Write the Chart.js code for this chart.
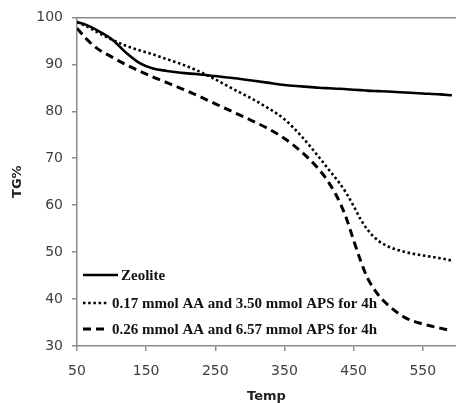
<!DOCTYPE html>
<html>
<head>
<meta charset="utf-8">
<script src="https://cdn.jsdelivr.net/npm/chart.js@4/dist/chart.umd.min.js"></script>
<style>
  html, body { margin: 0; padding: 0; background: #ffffff; }
  #wrap { width: 456px; height: 403px; position: relative; }
</style>
</head>
<body>
<div id="wrap"><canvas id="c" width="456" height="403"></canvas></div>
<script>
// ---- data ----
const temps = [50, 65, 80, 100, 120, 140, 160, 180, 200, 225, 250, 275, 300, 325, 350, 375, 400, 415, 430, 440, 450, 460, 470, 485, 500, 525, 550, 575, 592];
const zeolite = [99.0, 98.3, 97.2, 95.4, 92.6, 90.3, 89.1, 88.6, 88.2, 87.9, 87.5, 87.1, 86.6, 86.1, 85.6, 85.3, 85.0, 84.9, 84.8, 84.7, 84.6, 84.5, 84.4, 84.3, 84.2, 84.0, 83.8, 83.6, 83.4];
const sample017 = [99.0, 98.0, 96.8, 95.3, 94.0, 93.0, 92.1, 91.1, 90.1, 88.6, 86.8, 84.8, 82.9, 80.8, 78.3, 74.6, 70.2, 67.4, 64.6, 62.4, 59.8, 57.0, 54.8, 52.5, 51.2, 50.0, 49.3, 48.7, 48.2];
const sample026 = [97.7, 95.2, 93.3, 91.6, 90.0, 88.6, 87.3, 86.1, 84.9, 83.3, 81.6, 79.9, 78.2, 76.4, 74.2, 71.3, 67.6, 64.6, 60.6, 57.0, 52.5, 48.2, 44.5, 41.0, 38.7, 36.0, 34.7, 33.8, 33.2];
const seriesNames = ["Zeolite", "0.17 mmol AA and 3.50 mmol APS for 4h", "0.26 mmol AA and 6.57 mmol APS for 4h"];
const xTickValues = [50, 150, 250, 350, 450, 550];
const yTickValues = [30, 40, 50, 60, 70, 80, 90, 100];
const xTitle = "Temp";
const yTitle = "TG%";

const toPts = (vals) => vals.map((v, i) => ({ x: temps[i], y: v }));

const axisColor = '#8c8c8c';
const tickFont = { family: 'DejaVu Sans', size: 14 };

// legend drawn inside the plot area (bottom-left), using dataset styles
const insideLegend = {
  id: 'insideLegend',
  afterDatasetsDraw(chart) {
    const { ctx, chartArea } = chart;
    const rows = [-71, -43, -17];
    const sampleLen = [35, 26, 26];
    ctx.save();
    ctx.font = 'bold 15px "Liberation Serif"';
    ctx.textBaseline = 'middle';
    ctx.fillStyle = '#111';
    chart.data.datasets.forEach((ds, i) => {
      const y = chartArea.bottom + rows[i];
      const x0 = chartArea.left + 6;
      ctx.beginPath();
      ctx.strokeStyle = ds.borderColor;
      ctx.lineWidth = ds.borderWidth;
      ctx.setLineDash(ds.borderDash || []);
      ctx.moveTo(x0, y);
      ctx.lineTo(x0 + sampleLen[i], y);
      ctx.stroke();
      ctx.setLineDash([]);
      ctx.fillText(ds.label, x0 + sampleLen[i] + 3, y + 1);
    });
    ctx.restore();
  }
};

new Chart(document.getElementById('c'), {
  type: 'line',
  data: {
    datasets: [
      { label: seriesNames[0], data: toPts(zeolite), borderColor: '#000', borderWidth: 2.6, borderDash: [], pointRadius: 0, tension: 0.4, cubicInterpolationMode: 'monotone', fill: false },
      { label: seriesNames[1], data: toPts(sample017), borderColor: '#000', borderWidth: 2.6, borderDash: [2.5, 2.7], pointRadius: 0, tension: 0.4, cubicInterpolationMode: 'monotone', fill: false },
      { label: seriesNames[2], data: toPts(sample026), borderColor: '#000', borderWidth: 3, borderDash: [8, 5], pointRadius: 0, tension: 0.4, cubicInterpolationMode: 'monotone', fill: false }
    ]
  },
  options: {
    responsive: false,
    animation: false,
    devicePixelRatio: 1,
    layout: { padding: { top: 17, right: 0, bottom: 0, left: 0 } },
    plugins: { legend: { display: false }, tooltip: { enabled: false } },
    scales: {
      x: {
        type: 'linear', position: 'bottom', min: 50, max: 598,
        afterBuildTicks: (s) => { s.ticks = xTickValues.map(v => ({ value: v })); },
        afterFit: (s) => { s.height = 57; },
        ticks: { font: tickFont, color: '#404040', padding: 12, maxRotation: 0, autoSkip: false },
        grid: { drawOnChartArea: false, drawTicks: true, tickLength: 5, color: axisColor, lineWidth: 1.5 },
        border: { color: axisColor, width: 1.5 },
        title: { display: true, text: xTitle, font: { family: 'DejaVu Sans', size: 13, weight: 'bold', lineHeight: 1 }, color: '#222', padding: { top: 0, bottom: 0 } }
      },
      x2: {
        type: 'linear', position: 'top', min: 50, max: 598,
        afterFit: (s) => { s.height = 0; },
        ticks: { display: false },
        grid: { display: false, drawTicks: false },
        border: { color: axisColor, width: 1.5 }
      },
      y: {
        type: 'linear', min: 30, max: 100,
        afterBuildTicks: (s) => { s.ticks = yTickValues.map(v => ({ value: v })); },
        afterFit: (s) => { s.width = 77; },
        ticks: { font: tickFont, color: '#404040', padding: 9 },
        grid: { drawOnChartArea: false, drawTicks: true, tickLength: 5, color: axisColor, lineWidth: 1.5 },
        border: { color: axisColor, width: 1.5 },
        title: { display: true, text: yTitle, font: { family: 'DejaVu Sans', size: 13, weight: 'bold', lineHeight: 1.2 }, color: '#222', padding: { top: 10, bottom: 0 } }
      }
    }
  },
  plugins: [insideLegend]
});
</script>
</body>
</html>
